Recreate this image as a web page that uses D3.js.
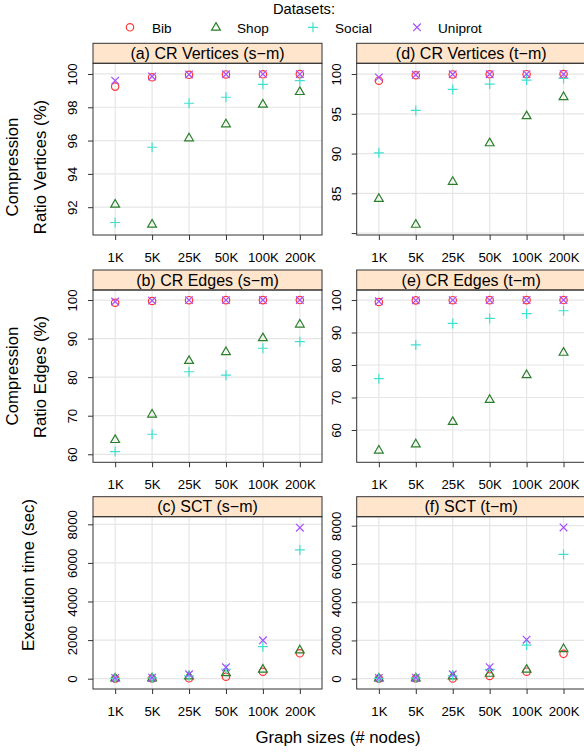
<!DOCTYPE html>
<html><head><meta charset="utf-8">
<script src="https://cdn.jsdelivr.net/npm/d3@7"></script>
<style>
body{margin:0;background:#fff}
svg{display:block}
text{font-family:"Liberation Sans",Arial,Helvetica,sans-serif;fill:#000}
</style>
</head><body>
<svg id="chart" width="584" height="754"></svg>
<script>
// ---- data ----
const categories = ["1K","5K","25K","50K","100K","200K"];
const datasets = ["Bib","Shop","Social","Uniprot"];
const colors = ["#FF3636","#2A7F2A","#40E0D0","#A64DFF"];

const crVerticesSM = {
  Bib:     [99.24, 99.80, 99.95, 99.97, 99.98, 99.99],
  Shop:    [92.18, 90.98, 96.16, 97.00, 98.18, 98.94],
  Social:  [91.08, 95.60, 98.24, 98.60, 99.38, 99.60],
  Uniprot: [99.60, 99.85, 99.97, 99.98, 99.99, 99.99]
};
const crVerticesTM = {
  Bib:     [99.16, 99.85, 99.95, 99.97, 99.98, 99.99],
  Shop:    [84.35, 81.10, 86.50, 91.35, 94.75, 97.15],
  Social:  [90.09, 95.42, 98.07, 98.74, 99.24, 99.45],
  Uniprot: [99.58, 99.90, 99.97, 99.98, 99.99, 99.99]
};
const crEdgesSM = {
  Bib:     [99.30, 99.75, 99.95, 99.97, 99.98, 99.99],
  Shop:    [63.80, 70.40, 84.30, 86.60, 90.20, 93.75],
  Social:  [60.70, 65.20, 81.40, 80.50, 87.50, 89.20],
  Uniprot: [99.60, 99.85, 99.97, 99.98, 99.99, 99.99]
};
const crEdgesTM = {
  Bib:     [99.40, 99.90, 99.95, 99.97, 99.98, 99.99],
  Shop:    [53.80, 55.70, 62.60, 69.40, 77.00, 83.90],
  Social:  [75.80, 86.20, 92.80, 94.35, 95.80, 96.70],
  Uniprot: [99.60, 99.90, 99.97, 99.98, 99.99, 99.99]
};
const sctSM = {
  Bib:     [5, 10, 20, 100, 360, 1315],
  Shop:    [30, 40, 140, 310, 490, 1490],
  Social:  [20, 40, 150, 490, 1660, 6670],
  Uniprot: [40, 50, 228, 590, 1990, 7824]
};
const sctTM = {
  Bib:     [5, 10, 10, 140, 365, 1300],
  Shop:    [30, 40, 140, 280, 490, 1570],
  Social:  [20, 40, 150, 490, 1760, 6500],
  Uniprot: [40, 50, 230, 600, 2040, 7910]
};

const ticksVertSM = [92, 94, 96, 98, 100];
const ticksVertTM = [80, 85, 90, 95, 100];
const labelsVertTM = ["", "85", "90", "95", "100"];
const ticksEdges = [60, 70, 80, 90, 100];
const ticksSCT = [0, 2000, 4000, 6000, 8000];

// ---- layout ----
const svg = d3.select("#chart");
const colX = [93, 356.7];
const panelW = 229;
const stripTop = [43.3, 270, 496.7];
const stripH = 20;
const plotBottom = [235, 462.3, 689];

const panels = [
  {title:"(a) CR Vertices (s\u2212m)", data:crVerticesSM, domain:[90.33,100.64], ticks:ticksVertSM, labels:null, col:0, row:0},
  {title:"(d) CR Vertices (t\u2212m)", data:crVerticesTM, domain:[79.76,101.35], ticks:ticksVertTM, labels:labelsVertTM, col:1, row:0},
  {title:"(b) CR Edges (s\u2212m)", data:crEdgesSM, domain:[57.92,102.6], ticks:ticksEdges, labels:null, col:0, row:1},
  {title:"(e) CR Edges (t\u2212m)", data:crEdgesTM, domain:[50.06,103.09], ticks:ticksEdges, labels:null, col:1, row:1},
  {title:"(c) SCT (s\u2212m)", data:sctSM, domain:[-534,8394], ticks:ticksSCT, labels:null, col:0, row:2},
  {title:"(f) SCT (t\u2212m)", data:sctTM, domain:[-539,8471], ticks:ticksSCT, labels:null, col:1, row:2}
];

const symbolPath = [
  null,
  "M0,-4.7L4.4,2.9L-4.4,2.9Z",
  "M-5,0H5M0,-5V5",
  "M-3.8,-3.8L3.8,3.8M-3.8,3.8L3.8,-3.8"
];

function drawSymbol(g, i, x, y) {
  if (i === 0) {
    g.append("circle").attr("cx", x).attr("cy", y).attr("r", 3.7)
      .attr("fill", "none").attr("stroke", colors[i]).attr("stroke-width", 1.2);
  } else {
    g.append("path").attr("d", symbolPath[i]).attr("transform", `translate(${x},${y})`)
      .attr("fill", "none").attr("stroke", colors[i]).attr("stroke-width", 1.2);
  }
}

panels.forEach(p => {
  const x0 = colX[p.col];
  const top = stripTop[p.row] + stripH;
  const bottom = plotBottom[p.row];
  const g = svg.append("g").attr("transform", `translate(${x0},0)`);
  const x = d3.scalePoint().domain(categories).range([0, panelW]).padding(0.6);
  const y = d3.scaleLinear().domain(p.domain).range([bottom, top]);

  // grid
  const grid = g.append("g");
  grid.selectAll("line.vx").data(categories).join("line")
    .attr("x1", d => x(d)).attr("x2", d => x(d)).attr("y1", top).attr("y2", bottom)
    .attr("stroke", "#E6E6E6").attr("stroke-width", 1.2);
  grid.selectAll("line.hy").data(p.ticks.filter(t => y(t) > top && y(t) < bottom)).join("line")
    .attr("x1", 0).attr("x2", panelW).attr("y1", d => y(d)).attr("y2", d => y(d))
    .attr("stroke", "#E6E6E6").attr("stroke-width", 1.2);

  // points
  const pts = g.append("g");
  datasets.forEach((ds, i) => {
    p.data[ds].forEach((v, j) => drawSymbol(pts, i, x(categories[j]), y(v)));
  });

  // strip
  g.append("rect").attr("x", 0).attr("y", stripTop[p.row]).attr("width", panelW).attr("height", stripH)
    .attr("fill", "#FFE5CC").attr("stroke", "#333").attr("stroke-width", 1);
  g.append("text").attr("x", panelW / 2).attr("y", stripTop[p.row] + stripH - 4.5)
    .attr("text-anchor", "middle").style("font-size", "16px").text(p.title);

  // border
  g.append("rect").attr("x", 0).attr("y", top).attr("width", panelW).attr("height", bottom - top)
    .attr("fill", "none").attr("stroke", "#333").attr("stroke-width", 1);

  // y axis
  const ya = g.append("g").call(
    d3.axisLeft(y).tickValues(p.ticks).tickSize(5)
      .tickFormat((d, i) => p.labels ? p.labels[i] : String(d))
  );
  ya.select(".domain").remove();
  ya.selectAll(".tick line").attr("stroke", "#333");
  ya.selectAll(".tick text")
    .attr("x", null).attr("dy", null).attr("y", null)
    .attr("text-anchor", "middle")
    .attr("transform", "translate(-15.7,0) rotate(-90)")
    .style("font-size", "13.2px").style("font-family", null).attr("fill", "#000");
  ya.attr("font-family", null).attr("font-size", null);

  // x axis
  const xa = g.append("g").attr("transform", `translate(0,${bottom})`).call(
    d3.axisBottom(x).tickSize(5)
  );
  xa.select(".domain").remove();
  xa.selectAll(".tick line").attr("stroke", "#333");
  xa.selectAll(".tick text").attr("y", 27).attr("dy", null)
    .style("font-size", "13.2px").attr("fill", "#000");
  xa.attr("font-family", null).attr("font-size", null);
});

// axis titles
function vtext(x, y, t) {
  svg.append("text").attr("transform", `translate(${x},${y}) rotate(-90)`)
    .attr("text-anchor", "middle").style("font-size", "16.8px").text(t);
}
vtext(17.5, 167, "Compression");
vtext(46, 167, "Ratio Vertices (%)");
vtext(17.5, 376, "Compression");
vtext(46, 377, "Ratio Edges (%)");
vtext(33.5, 575, "Execution time (sec)");

svg.append("text").attr("x", 338).attr("y", 743).attr("text-anchor", "middle")
  .style("font-size", "16.8px").text("Graph sizes (# nodes)");

// legend
svg.append("text").attr("x", 304).attr("y", 14).attr("text-anchor", "middle")
  .style("font-size", "14.7px").text("Datasets:");
const legSymX = [130, 216, 313, 417];
const legTextX = [152, 237, 335, 438];
const leg = svg.append("g");
datasets.forEach((ds, i) => {
  drawSymbol(leg, i, legSymX[i], 27.3);
  leg.append("text").attr("x", legTextX[i]).attr("y", 33).style("font-size", "13.6px").text(ds);
});
</script>
</body></html>
